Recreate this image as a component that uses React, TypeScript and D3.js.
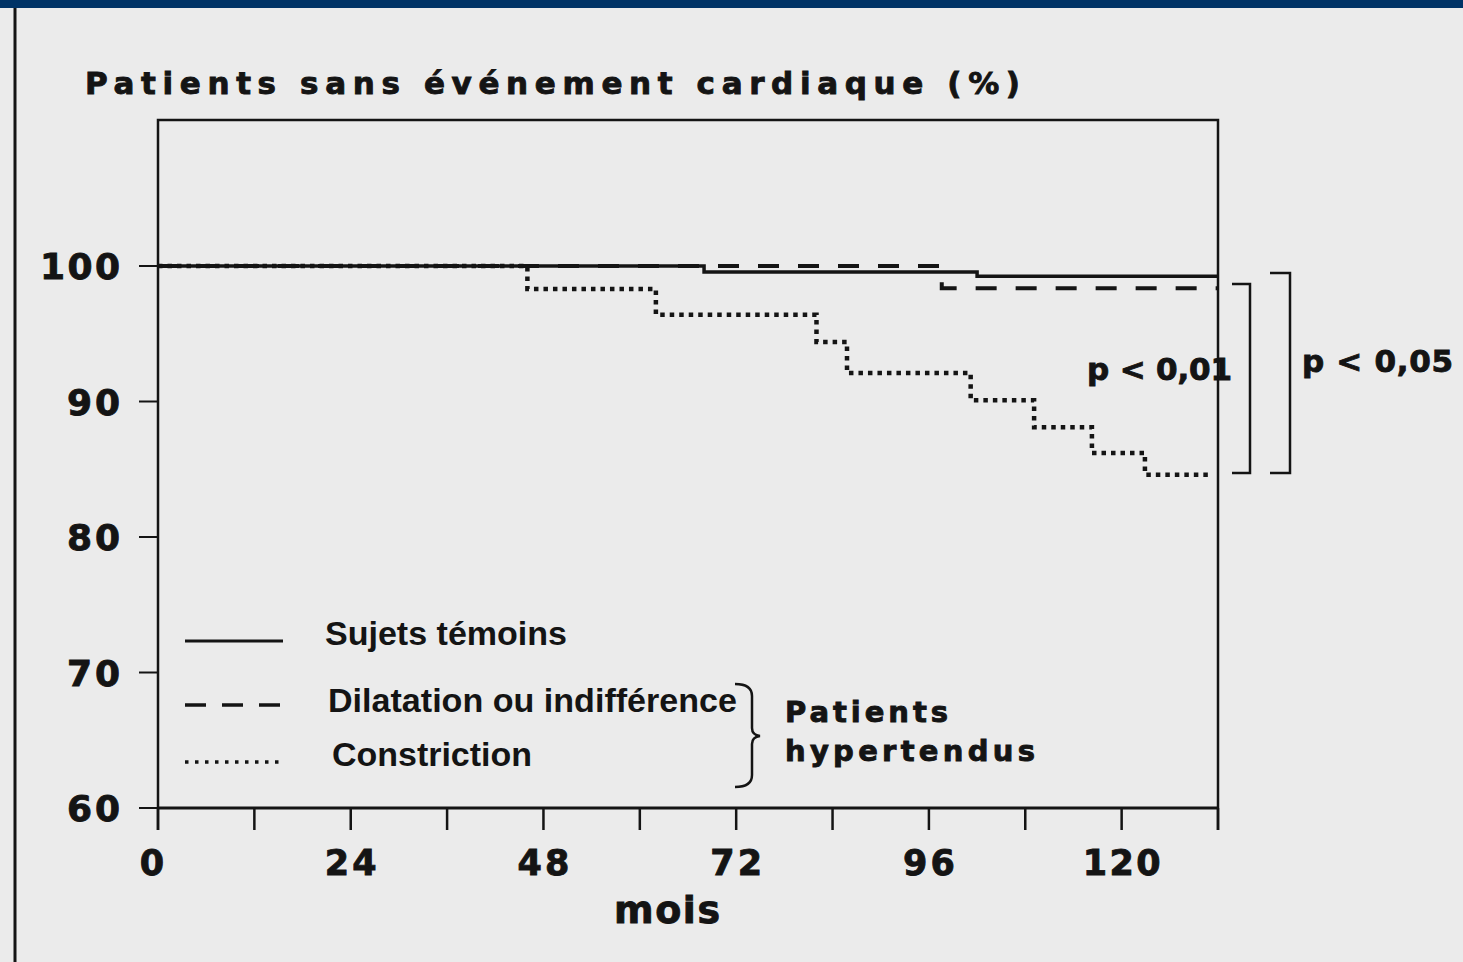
import { curveStepAfter, line, range, scaleLinear } from 'd3';

// Kaplan-Meier style survival curves, drawn as plain SVG via JSX.
// Each series: months where a step starts + survival (%) holding from there on.

const temoinsMois = [0, 68, 102, 132];
const temoinsSurvie = [100, 99.55, 99.25, 99.25];

const dilatationMois = [0, 97.6, 132];
const dilatationSurvie = [100, 98.35, 98.35];

const constrictionMois = [0, 46, 62, 82, 85.8, 101.2, 109.1, 116.3, 122.9, 131.3];
const constrictionSurvie = [100, 98.3, 96.4, 94.4, 92.1, 90.1, 88.1, 86.2, 84.6, 84.6];

const xTickLabels = [0, 24, 48, 72, 96, 120];
const yTickLabels = [60, 70, 80, 90, 100];

const legendLabels = ['Sujets témoins', 'Dilatation ou indifférence', 'Constriction'];

const INK = '#141414';
const HEAVY = "'DejaVu Sans', Verdana, sans-serif";
const PLAIN = "'Liberation Sans', Arial, Helvetica, sans-serif";

// scanned print looks heavier than a plain bold: thicken glyphs a little
const heavy = (size: number) => ({
  fontFamily: HEAVY,
  fontWeight: 700,
  fontSize: size,
  stroke: INK,
  strokeWidth: 0.9,
});

export default function App() {
  const W = 1463;
  const H = 962;
  const left = 158;
  const right = 1218;
  const top = 120;
  const bottom = 808;

  const x = scaleLinear().domain([0, 132]).range([left, right]);
  const y = scaleLinear().domain([60, 100]).range([bottom, 266]);

  const step = line<[number, number]>()
    .x((d) => x(d[0]))
    .y((d) => y(d[1]))
    .curve(curveStepAfter);

  const zip = (ms: number[], ss: number[]) => ms.map((m, i) => [m, ss[i]] as [number, number]);

  const series = [
    { pts: zip(constrictionMois, constrictionSurvie), dash: '4.5 5', width: 4.5 },
    { pts: zip(dilatationMois, dilatationSurvie), dash: '21 19', width: 4 },
    { pts: zip(temoinsMois, temoinsSurvie), dash: undefined, width: 3.5 },
  ];

  const legendY = [641, 705, 762];
  const legendStyle = [
    { dash: undefined, width: 3 },
    { dash: '21 16', width: 3.5 },
    { dash: '3.5 6.5', width: 3.5 },
  ];
  const legendText = [
    { x: 325, y: 645, len: 242 },
    { x: 328, y: 712, len: 409 },
    { x: 332, y: 766, len: 200 },
  ];

  return (
    <svg
      width={W}
      height={H}
      viewBox={`0 0 ${W} ${H}`}
      style={{ position: 'fixed', left: 0, top: 0, display: 'block' }}
    >
      <rect width={W} height={H} fill="#ebebeb" />
      <rect width={W} height={8} fill="#003366" />
      <line x1={15} x2={15} y1={8} y2={H} stroke={INK} strokeWidth={3} />

      {/* title */}
      <text x={85} y={94} fill={INK} textLength={935} lengthAdjust="spacing" style={heavy(31)}>
        Patients sans événement cardiaque (%)
      </text>

      {/* frame */}
      <path d={`M${left},${bottom + 22}V${top}H${right}V${bottom + 22}`} fill="none" stroke={INK} strokeWidth={2.5} />
      <line x1={left} x2={right} y1={bottom} y2={bottom} stroke={INK} strokeWidth={3} />

      {/* y axis */}
      {yTickLabels.map((t) => (
        <g key={t}>
          <line x1={left - 19} x2={left} y1={y(t)} y2={y(t)} stroke={INK} strokeWidth={2} />
          <text
            x={120}
            y={y(t) + 13}
            textAnchor="end"
            fill={INK}
            textLength={t === 100 ? 80 : 53}
            lengthAdjust="spacing"
            style={heavy(36)}
          >
            {t}
          </text>
        </g>
      ))}

      {/* x axis */}
      {range(0, 133, 12).map((m) => (
        <line key={m} x1={x(m)} x2={x(m)} y1={bottom} y2={bottom + 22} stroke={INK} strokeWidth={2.5} />
      ))}
      {xTickLabels.map((m) => (
        <text
          key={m}
          x={x(m) - (m === 0 ? 6 : 0)}
          y={875}
          textAnchor="middle"
          fill={INK}
          textLength={String(m).length === 1 ? 24 : String(m).length * 26}
          lengthAdjust="spacing"
          style={heavy(35)}
        >
          {m}
        </text>
      ))}
      <text x={667} y={923} textAnchor="middle" fill={INK} textLength={106} lengthAdjust="spacing" style={heavy(38)}>
        mois
      </text>

      {/* curves */}
      {series.map((s, i) => (
        <path
          key={i}
          d={step(s.pts) ?? undefined}
          fill="none"
          stroke={INK}
          strokeWidth={s.width}
          strokeDasharray={s.dash}
        />
      ))}

      {/* significance brackets */}
      <path d="M1232,284H1250V473H1232" fill="none" stroke={INK} strokeWidth={2.5} />
      <path d="M1270,273H1290V473H1270" fill="none" stroke={INK} strokeWidth={2.5} />
      <text x={1087} y={380} fill={INK} textLength={145} lengthAdjust="spacing" style={heavy(31)}>
        p &lt; 0,01
      </text>
      <text x={1302} y={372} fill={INK} textLength={151} lengthAdjust="spacing" style={heavy(31)}>
        p &lt; 0,05
      </text>

      {/* legend */}
      {legendLabels.map((lab, i) => (
        <g key={lab}>
          <line
            x1={185}
            x2={i === 1 ? 280 : 283}
            y1={legendY[i]}
            y2={legendY[i]}
            stroke={INK}
            strokeWidth={legendStyle[i].width}
            strokeDasharray={legendStyle[i].dash}
          />
          <text
            x={legendText[i].x}
            y={legendText[i].y}
            fill={INK}
            textLength={legendText[i].len}
            lengthAdjust="spacingAndGlyphs"
            style={{ fontFamily: PLAIN, fontWeight: 700, fontSize: 34 }}
          >
            {lab}
          </text>
        </g>
      ))}
      <path
        d="M735,684 Q752,684 752,696 V728 Q752,735 760,736 Q752,737 752,744 V775 Q752,787 735,787"
        fill="none"
        stroke={INK}
        strokeWidth={2.5}
      />
      <text x={785} y={722} fill={INK} textLength={163} lengthAdjust="spacing" style={heavy(29)}>
        Patients
      </text>
      <text x={785} y={761} fill={INK} textLength={250} lengthAdjust="spacing" style={heavy(29)}>
        hypertendus
      </text>
    </svg>
  );
}
